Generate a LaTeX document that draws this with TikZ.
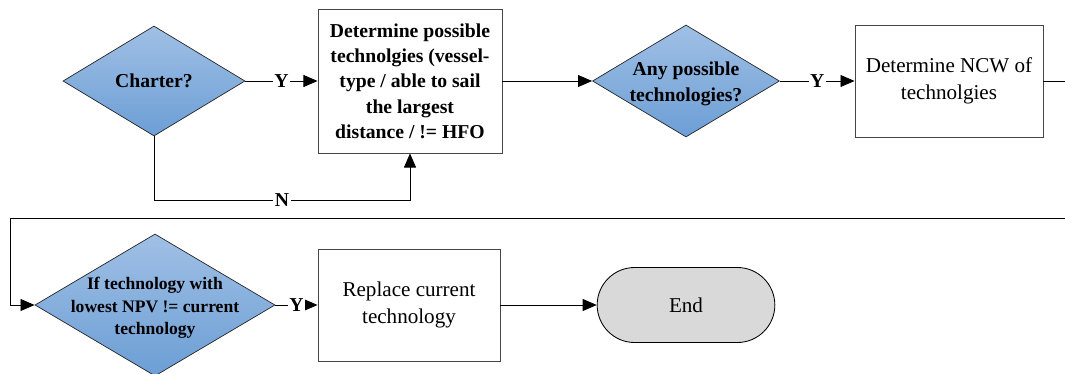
\documentclass[tikz,border=0pt]{standalone}
\usepackage{fontspec}
\setmainfont{Liberation Serif}
\usetikzlibrary{shapes.geometric,shapes.misc,arrows.meta}
\definecolor{diatop}{RGB}{160,192,229}
\definecolor{diabot}{RGB}{108,158,213}
\definecolor{endgray}{RGB}{217,217,217}
\definecolor{boxline}{RGB}{70,70,70}
\tikzset{
  decision/.style={diamond, draw=black!85, line width=0.5pt, top color=diatop, bottom color=diabot, inner sep=0pt},
  process/.style={rectangle, draw=boxline, line width=0.6pt, fill=white, align=center, inner sep=2pt, font=\fontsize{15}{19}\selectfont},
  terminal/.style={rounded rectangle, draw=black, line width=0.6pt, fill=endgray, minimum width=4.675cm, minimum height=1.875cm, font=\fontsize{15}{18}\selectfont},
  dtext/.style={align=center, font=\bfseries\fontsize{14}{18}\selectfont},
  yn/.style={fill=white, inner sep=1pt, font=\bfseries\fontsize{14}{16}\selectfont},
  flow/.style={-{Triangle[length=10pt,width=8.5pt]}, line width=0.6pt},
}
\begin{document}
\begin{tikzpicture}[x=0.025cm, y=-0.025cm]
\useasboundingbox (0,0) rectangle (1065,374);
% first row
\node[decision, minimum width=4.55cm, minimum height=2.75cm] (charter) at (154,81) {};
\node[dtext] (charterTxt) at (charter) {Charter?};
\node[process, minimum width=4.6cm, minimum height=3.6cm, font=\bfseries\fontsize{14}{18}\selectfont] (possTech) at (410,81) {Determine possible\\technolgies (vessel-\\type / able to sail\\the largest\\distance / != HFO};
\node[decision, minimum width=4.675cm, minimum height=2.8cm] (anyTech) at (686,81) {};
\node[dtext] (anyTechTxt) at ([yshift=-2pt]anyTech) {Any possible\\technologies?};
\node[process, minimum width=4.7cm, minimum height=2.8cm] (ncw) at (949,81) {Determine NCW of\\technolgies};
% second row
\node[decision, minimum width=6cm, minimum height=3.55cm] (lowNPV) at (155,305) {};
\node[dtext, font=\bfseries\fontsize{12.5}{16}\selectfont] (lowNPVTxt) at ([yshift=-2pt]lowNPV) {If technology with\\lowest NPV != current\\technology};
\node[process, minimum width=4.55cm, minimum height=2.8cm] (replace) at (409,305) {Replace current\\technology};
\node[terminal] (finish) at (686,305) {End};
\coordinate (nTurn) at (410,200);
\coordinate (rowR) at (1075,218);
\coordinate (rowL) at (10,218);
% connectors
\draw[flow] (charter) -- node[yn]{Y} (possTech);
\draw[flow] (charter.south) |- node[yn,pos=0.75]{N} (nTurn) -- (possTech.south);
\draw[flow] (possTech) -- (anyTech);
\draw[flow] (anyTech) -- node[yn]{Y} (ncw);
\draw[flow] (ncw.east) -| (rowR) -- (rowL) |- (lowNPV.west);
\draw[flow] (lowNPV) -- node[yn]{Y} (replace);
\draw[flow] (replace) -- (finish);
\end{tikzpicture}
\end{document}
